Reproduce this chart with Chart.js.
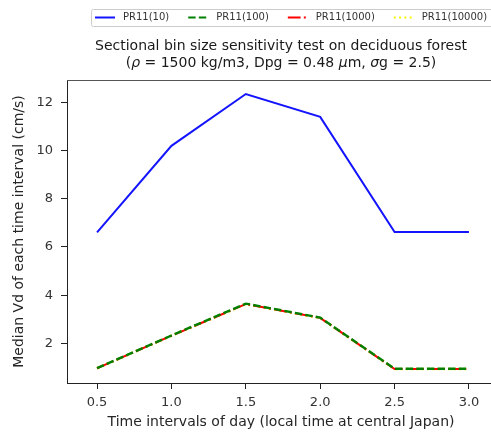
<!DOCTYPE html>
<html>
<head>
<meta charset="utf-8">
<script src="https://cdn.jsdelivr.net/npm/chart.js@4"></script>
<style>
  html, body { margin: 0; padding: 0; background: #fff; overflow: hidden; }
  #wrap { position: absolute; left: 0; top: 0; width: 500px; height: 437px; }
</style>
</head>
<body>
<div id="wrap"><canvas id="myChart" width="500" height="437"></canvas></div>
<script>
// values
const timeIntervals = [0.5, 1.0, 1.5, 2.0, 2.5, 3.0];
const pr11_10 = [6.60, 10.19, 12.34, 11.39, 6.62, 6.62];
const pr11_100 = [0.98, 2.33, 3.65, 3.07, 0.95, 0.95];
const pr11_1000 = [0.97, 2.32, 3.63, 3.06, 0.94, 0.94];
const pr11_10000 = [0.97, 2.32, 3.63, 3.06, 0.94, 0.94];
const xTicks = [0.5, 1.0, 1.5, 2.0, 2.5, 3.0];
const yTicks = [2, 4, 6, 8, 10, 12];
const titleLine1 = 'Sectional bin size sensitivity test on deciduous forest';
// second title line, greek letters are set in italic like mathtext
const titleLine2 = [
    ['(', false], ['\u03c1', true], [' = 1500 kg/m3, Dpg = 0.48 ', false],
    ['\u03bc', true], ['m, ', false], ['\u03c3', true], ['g = 2.5)', false]
];

const FONT = '"DejaVu Sans", sans-serif';
const ctx = document.getElementById('myChart').getContext('2d');

function pts(values) {
    return timeIntervals.map((t, i) => ({ x: t, y: values[i] }));
}

function series(label, values, color, dash, width) {
    return {
        label: label,
        data: pts(values),
        borderColor: color,
        backgroundColor: color,
        borderWidth: width || 2,
        borderDash: dash,
        pointRadius: 0,
        tension: 0,
        fill: false
    };
}

// title, legend box and the top spine
const decor = {
    id: 'decor',
    afterDraw(chart) {
        const c = chart.ctx;
        const area = chart.chartArea;
        c.save();

        // top spine
        c.strokeStyle = '#555';
        c.lineWidth = 1;
        c.beginPath();
        c.moveTo(area.left, area.top + 0.5);
        c.lineTo(area.right, area.top + 0.5);
        c.stroke();

        // title
        const mid = (area.left + area.right) / 2;
        c.fillStyle = '#1a1a1a';
        c.font = '14px ' + FONT;
        c.textAlign = 'center';
        c.textBaseline = 'middle';
        c.fillText(titleLine1, mid, 46);

        c.textAlign = 'left';
        const fontOf = it => (it ? 'italic ' : '') + '14px ' + FONT;
        let total = 0;
        titleLine2.forEach(([t, it]) => { c.font = fontOf(it); total += c.measureText(t).width; });
        let tx = mid - total / 2;
        titleLine2.forEach(([t, it]) => {
            c.font = fontOf(it);
            c.fillText(t, tx, 63);
            tx += c.measureText(t).width;
        });

        // legend
        c.font = '10px ' + FONT;
        c.strokeStyle = '#cccccc';
        c.lineWidth = 1;
        c.beginPath();
        c.roundRect(91.5, 9.5, 410, 17, 2);
        c.stroke();

        let x = 95;
        const y = 17.5;
        const handle = 20;
        chart.data.datasets.forEach(ds => {
            c.strokeStyle = ds.borderColor;
            c.lineWidth = 2;
            c.setLineDash(ds.borderDash || []);
            c.lineCap = 'butt';
            c.beginPath();
            c.moveTo(x, y);
            c.lineTo(x + handle, y);
            c.stroke();
            c.setLineDash([]);
            c.fillStyle = '#333';
            c.fillText(ds.label, x + handle + 8, y);
            x += handle + 8 + c.measureText(ds.label).width + 19;
        });
        c.restore();
    }
};

const chart = new Chart(ctx, {
    type: 'line',
    data: {
        datasets: [
            series('PR11(10)', pr11_10, '#1414ff', []),
            series('PR11(100)', pr11_100, '#008000', [7.4, 3.2], 2.4),
            series('PR11(1000)', pr11_1000, '#ff0000', [12.8, 3.2, 2, 3.2]),
            series('PR11(10000)', pr11_10000, '#f5f500', [2, 3.3], 2.6)
        ]
    },
    options: {
        responsive: false,
        animation: false,
        layout: { padding: { top: 80, right: 5, left: 0, bottom: 0 } },
        plugins: {
            legend: { display: false },
            title: { display: false },
            tooltip: { enabled: false }
        },
        scales: {
            x: {
                type: 'linear',
                min: 0.298,
                max: 3.175,
                afterFit: s => { s.height = 54; },
                afterBuildTicks: s => { s.ticks = xTicks.map(v => ({ value: v })); },
                grid: { drawOnChartArea: false, tickLength: 6, color: '#222', tickWidth: 1 },
                border: { color: '#222', width: 1 },
                ticks: {
                    color: '#333',
                    font: { family: FONT, size: 13 },
                    padding: 6,
                    maxRotation: 0,
                    callback: v => v.toFixed(1)
                },
                title: {
                    display: true,
                    text: 'Time intervals of day (local time at central Japan)',
                    color: '#262626',
                    font: { family: FONT, size: 14 },
                    padding: { top: 0, bottom: 6 }
                }
            },
            y: {
                type: 'linear',
                min: 0.36,
                max: 12.92,
                afterFit: s => { s.width = 67; },
                afterBuildTicks: s => { s.ticks = yTicks.map(v => ({ value: v })); },
                grid: { drawOnChartArea: false, tickLength: 6, color: '#222', tickWidth: 1 },
                border: { color: '#222', width: 1 },
                ticks: {
                    color: '#333',
                    font: { family: FONT, size: 13 },
                    padding: 8
                },
                title: {
                    display: true,
                    text: 'Median Vd of each time interval (cm/s)',
                    color: '#262626',
                    font: { family: FONT, size: 14 },
                    padding: { top: 10.5, bottom: 0 }
                }
            }
        }
    },
    plugins: [decor]
});
</script>
</body>
</html>
